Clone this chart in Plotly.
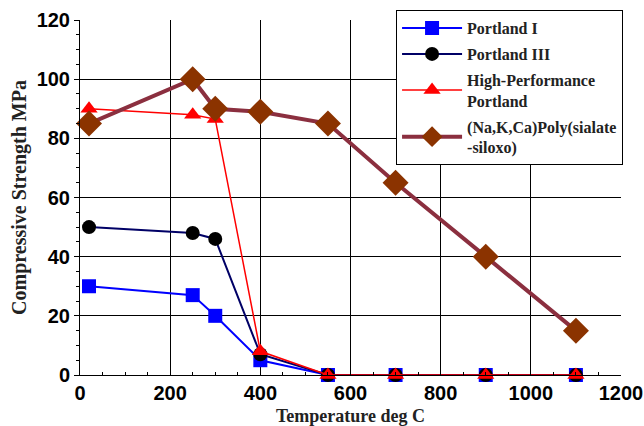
import plotly.graph_objects as go

temps = [20, 250, 300, 400, 550, 700, 900, 1100]
portland_1 = [30, 27, 20, 5, 0, 0, 0, 0]
portland_3 = [50, 48, 46, 7, 0, 0, 0, 0]
hp_portland = [90, 88, 86.5, 8, 0, 0, 0, 0]
geopolymer = [85, 100, 90, 89, 85, 65, 40, 15]

names = ["Portland I", "Portland III", "High-Performance<br>Portland",
         "(Na,K,Ca)Poly(sialate<br>-siloxo)"]
x_ticks = [0, 200, 400, 600, 800, 1000, 1200]
y_ticks = [0, 20, 40, 60, 80, 100, 120]

fig = go.Figure()
fig.add_trace(go.Scatter(x=temps, y=portland_1, name=names[0], mode="lines+markers",
                         legendgroup="a", cliponaxis=False,
                         line=dict(color="#0000ff", width=2),
                         marker=dict(symbol="square", size=14, color="#0000ff")))
fig.add_trace(go.Scatter(x=temps, y=portland_3, name=names[1], mode="lines+markers",
                         legendgroup="b", cliponaxis=False,
                         line=dict(color="#000066", width=2),
                         marker=dict(symbol="circle", size=14, color="#000000")))
fig.add_trace(go.Scatter(x=temps, y=hp_portland, name=names[2], mode="lines+markers",
                         legendgroup="c", cliponaxis=False,
                         line=dict(color="#ff0000", width=1.5),
                         marker=dict(symbol="triangle-up", size=15, color="#ff0000")))
fig.add_trace(go.Scatter(x=temps, y=geopolymer, name=names[3], mode="lines+markers",
                         legendgroup="d", cliponaxis=False,
                         line=dict(color="#8b2f3f", width=4),
                         marker=dict(symbol="diamond", size=20, color="#8b3300")))

fig.update_layout(
    width=644, height=426,
    margin=dict(l=80, r=23, t=20, b=51, autoexpand=False),
    plot_bgcolor="white", paper_bgcolor="white",
    font=dict(family="Liberation Sans, Arial", color="black"),
    legend=dict(xref="container", yref="container", x=0.615, y=0.976,
                xanchor="left", yanchor="top",
                bgcolor="white", bordercolor="black", borderwidth=1,
                font=dict(family="Liberation Serif, Times New Roman", size=16, color="#222",
                          weight="bold"),
                tracegroupgap=2, itemwidth=60, entrywidth=160),
)
fig.update_xaxes(range=[0, 1200], tickvals=x_ticks, showgrid=True, gridcolor="black",
                 gridwidth=1, showline=True, linecolor="black", linewidth=1,
                 ticks="inside", ticklen=4, tickcolor="black", automargin=False,
                 minor=dict(dtick=50, ticks="inside", ticklen=3, tickcolor="black", showgrid=False),
                 tickfont=dict(family="Liberation Sans, Arial", size=20, color="black",
                               weight="bold"),
                 title=dict(text="Temperature deg C", standoff=7,
                            font=dict(family="Liberation Serif, Times New Roman", size=18,
                                      color="#222", weight="bold")),
                 zeroline=False, mirror=False)
fig.update_yaxes(range=[0, 120], tickvals=y_ticks, showgrid=True, gridcolor="black",
                 gridwidth=1, showline=True, linecolor="black", linewidth=1,
                 ticks="outside", ticklen=5, tickcolor="black", automargin=False,
                 minor=dict(dtick=5, ticks="outside", ticklen=3, tickcolor="black", showgrid=False),
                 tickfont=dict(family="Liberation Sans, Arial", size=20, color="black",
                               weight="bold"),
                 title=dict(text="Compressive Strength MPa", standoff=4,
                            font=dict(family="Liberation Serif, Times New Roman", size=20,
                                      color="#222", weight="bold")),
                 zeroline=False)

fig.write_html("out.html", config={"displayModeBar": False},
               post_script="document.body.style.margin='0px';")
